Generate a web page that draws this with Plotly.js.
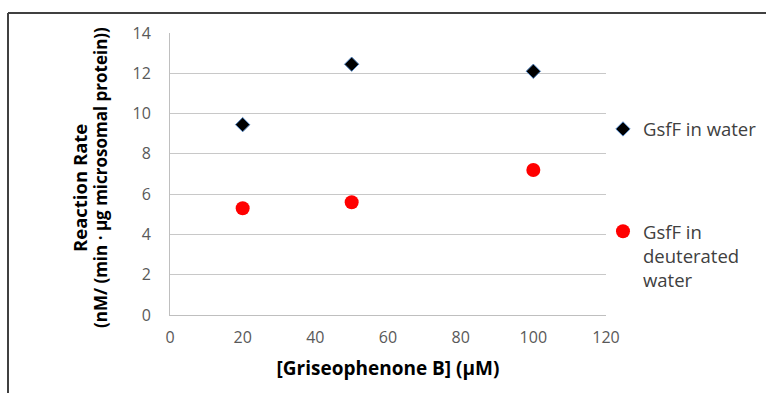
<!DOCTYPE html>
<html>
<head>
<meta charset="utf-8">
<script src="https://cdn.plot.ly/plotly-3.0.1.min.js"></script>
<style>html,body{margin:0;padding:0;background:#fff;}#chart{width:766px;height:393px;}</style>
</head>
<body>
<div id="chart"></div>
<script>
const concentrations = [20, 50, 100];
const waterRates = [9.45, 12.45, 12.1];
const deuteratedRates = [5.3, 5.6, 7.2];
const seriesNames = ['GsfF in water', 'GsfF in<br>deuterated<br>water'];
const xTicks = [0, 20, 40, 60, 80, 100, 120];
const yTicks = [0, 2, 4, 6, 8, 10, 12, 14];

const FONT = 'Open Sans, sans-serif';

const traces = [
  {
    x: concentrations, y: waterRates, type: 'scatter', mode: 'markers',
    name: seriesNames[0], legend: 'legend',
    marker: {symbol: 'diamond', size: 11, color: '#000000', line: {color: '#4f81bd', width: 1}}
  },
  {
    x: concentrations, y: deuteratedRates, type: 'scatter', mode: 'markers',
    name: seriesNames[1], legend: 'legend2',
    marker: {symbol: 'circle', size: 14, color: '#ff0000', line: {color: '#ff0000', width: 0}}
  }
];

const legendFont = {family: FONT, size: 18.5, color: '#404040'};

const layout = {
  width: 766, height: 393,
  margin: {l: 170, r: 160, t: 33, b: 78, autoexpand: false},
  paper_bgcolor: '#ffffff', plot_bgcolor: '#ffffff',
  font: {family: FONT, color: '#595959', size: 16},
  showlegend: true,
  legend: {
    x: 0.9931, y: 0.658, xanchor: 'left', yanchor: 'middle',
    font: legendFont, valign: 'top', bgcolor: 'rgba(0,0,0,0)'
  },
  legend2: {
    x: 0.9931, y: 0.21, xanchor: 'left', yanchor: 'middle',
    font: legendFont, valign: 'top', bgcolor: 'rgba(0,0,0,0)'
  },
  xaxis: {
    range: [0, 120], tickvals: xTicks, ticktext: xTicks.map(String),
    showgrid: false, zeroline: false, showline: true, linecolor: '#bfbfbf', linewidth: 1,
    ticks: '', tickfont: {family: FONT, size: 16, color: '#595959'}, ticklabelstandoff: 8,
    title: {text: '[Griseophenone B] (µM)', font: {family: FONT, size: 19, color: '#000000', weight: 'bold'}, standoff: 14}
  },
  yaxis: {
    range: [0, 14], tickvals: yTicks, ticktext: yTicks.map(String),
    showgrid: true, gridcolor: '#c8c8c8', gridwidth: 1, zeroline: false,
    showline: true, linecolor: '#bfbfbf', linewidth: 1,
    ticks: '', tickfont: {family: FONT, size: 16, color: '#595959'}, ticklabelstandoff: 15
  },
  annotations: [
    {text: '<b>Reaction Rate</b>', textangle: -90, xref: 'paper', yref: 'paper',
     x: (79 - 170) / 436, y: (315 - 188) / 282, xanchor: 'center', yanchor: 'middle', showarrow: false,
     font: {family: FONT, size: 18.5, color: '#000000'}},
    {text: '<b>(nM/ (min · µg microsomal protein))</b>', textangle: -90, xref: 'paper', yref: 'paper',
     x: (100 - 170) / 436, y: (315 - 178) / 282, xanchor: 'center', yanchor: 'middle', showarrow: false,
     font: {family: FONT, size: 17, color: '#000000'}}
  ],
  shapes: [
    {type: 'line', xref: 'paper', yref: 'paper', x0: (8 - 170) / 436, x1: 2, y0: 1 + (33 - 13) / 282, y1: 1 + (33 - 13) / 282,
     line: {color: '#404040', width: 2}},
    {type: 'line', xref: 'paper', yref: 'paper', x0: (8 - 170) / 436, x1: (8 - 170) / 436, y0: 1 + (33 - 13) / 282, y1: -1,
     line: {color: '#404040', width: 2}}
  ]
};

Plotly.newPlot('chart', traces, layout, {displayModeBar: false, staticPlot: true});
</script>
</body>
</html>
